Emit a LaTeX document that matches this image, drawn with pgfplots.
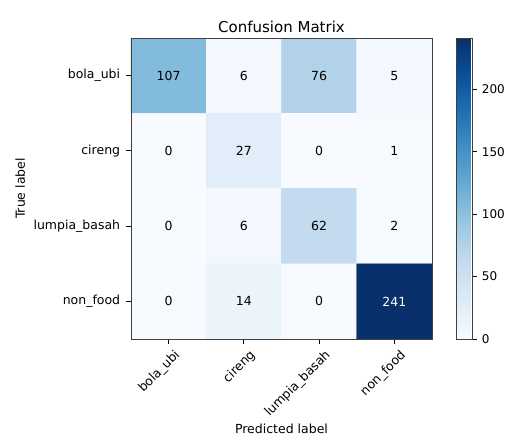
\documentclass[border=0pt]{standalone}
\usepackage{pgfplots}
\pgfplotsset{compat=1.18}
\usepackage{fontspec}
\setmainfont{DejaVu Sans}
\newcommand{\lf}{\fontsize{12.5}{15}\selectfont}
\begin{document}
\lf
\begin{tikzpicture}
\useasboundingbox (-131pt,-98pt) rectangle (374pt,339pt);
\begin{axis}[
  name=main, at={(0,0)}, anchor=south west,
  scale only axis, width=301pt, height=301pt,
  xmin=-0.5, xmax=3.5, ymin=-0.5, ymax=3.5, y dir=reverse,
  xtick={0,1,2,3}, ytick={0,1,2,3},
  xticklabels={bola\_ubi,cireng,lumpia\_basah,non\_food},
  yticklabels={bola\_ubi,cireng,lumpia\_basah,non\_food},
  xticklabel style={rotate=45, anchor=north east, font=\lf, xshift=4pt, yshift=-3pt},
  yticklabel style={font=\lf, xshift=-2pt},
  tick pos=left, tick align=outside, major tick length=4.5pt,
  tick style={black, line width=0.8pt},
  axis line style={line width=0.8pt, black!75},
  title={Confusion Matrix}, title style={font=\fontsize{15}{18}\selectfont, yshift=-5pt},
  xlabel={Predicted label}, ylabel={True label},
  xlabel style={font=\lf, yshift=5pt},
  ylabel style={font=\lf},
  colormap={blues}{rgb255=(247,251,255) rgb255=(222,235,247) rgb255=(198,219,239) rgb255=(158,202,225) rgb255=(107,174,214) rgb255=(66,146,198) rgb255=(33,113,181) rgb255=(8,81,156) rgb255=(8,48,107)},
  point meta min=0, point meta max=241,
  colorbar,
  colorbar style={
    at={(parent axis.north east)}, anchor=north west, xshift=15.5pt,
    width=16pt, height=301pt,
    ytick={0,50,100,150,200},
    xtick=\empty,
    tick pos=right, yticklabel pos=right,
    yticklabel style={font=\fontsize{12}{14}\selectfont, xshift=1pt},
    /pgf/number format/assume math mode=true,
    tick align=outside, major tick length=4.5pt,
    ytick style={black, line width=0.8pt},
    axis line style={line width=0.8pt, black!75},
  },
  axis on top,
]
\addplot[matrix plot*, mesh/cols=4, point meta=explicit] table[meta=v] {
x y v
0 0 107
1 0 6
2 0 76
3 0 5
0 1 0
1 1 27
2 1 0
3 1 1
0 2 0
1 2 6
2 2 62
3 2 2
0 3 0
1 3 14
2 3 0
3 3 241
};
\addplot[only marks, mark=none, nodes near coords, point meta=explicit symbolic,
  nodes near coords align=center,
  every node near coord/.append style={black, font=\lf, anchor=center}] table[meta=v] {
x y v
0 0 107
1 0 6
2 0 76
3 0 5
0 1 0
1 1 27
2 1 0
3 1 1
0 2 0
1 2 6
2 2 62
3 2 2
0 3 0
1 3 14
2 3 0
};
\addplot[only marks, mark=none, nodes near coords, point meta=explicit symbolic,
  nodes near coords align=center,
  every node near coord/.append style={white, font=\lf, anchor=center}] table[meta=v] {
x y v
3 3 241
};
\end{axis}
\end{tikzpicture}
\end{document}
